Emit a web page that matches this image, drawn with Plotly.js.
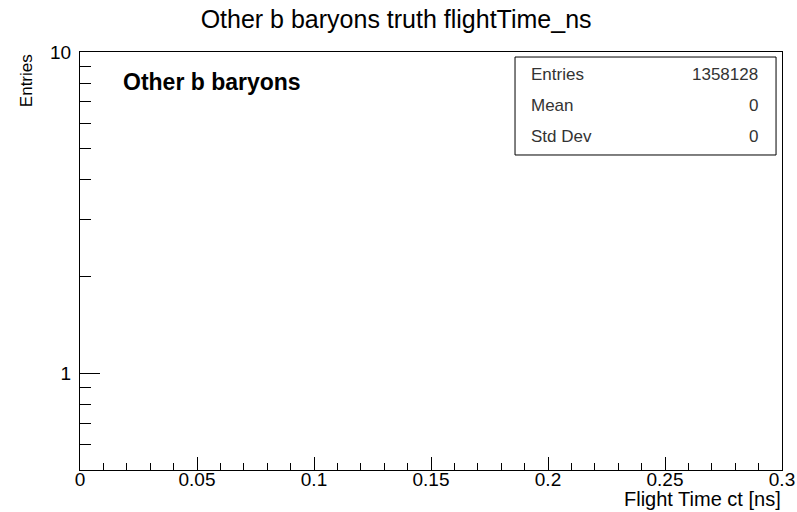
<!DOCTYPE html>
<html>
<head>
<meta charset="utf-8">
<script src="https://cdn.plot.ly/plotly-3.0.1.min.js"></script>
<style>html,body{margin:0;padding:0;background:#fff;}#chart{width:797px;height:512px;}</style>
</head>
<body>
<div id="chart"></div>
<script>
// Histogram content (empty: all entries are outside the drawn range / zero)
const binCenters = [];
const binCounts = [];
const chartTitle = 'Other b baryons truth flightTime_ns';
const xAxisTitle = 'Flight Time ct [ns]';
const yAxisTitle = 'Entries';
const sampleLabel = 'Other b baryons';
const statLabels = ['Entries', 'Mean', 'Std Dev'];
const statValues = ['1358128', '0', '0'];
const xTickVals = [0, 0.05, 0.1, 0.15, 0.2, 0.25, 0.3];
const xTickText = ['0', '0.05', '0.1', '0.15', '0.2', '0.25', '0.3'];
const yTickVals = [1, 10];
const yTickText = ['1', '10'];
const yMinorVals = [0.5, 0.6, 0.7, 0.8, 0.9, 2, 3, 4, 5, 6, 7, 8, 9];

const FONT = 'Liberation Sans, Arial, Helvetica, sans-serif';

const statRowY = [0.947, 0.873, 0.797];
const annotations = [
  {text: sampleLabel, xref: 'paper', yref: 'paper', x: 0.059, y: 0.928, xanchor: 'left', yanchor: 'middle',
   showarrow: false, font: {family: FONT, size: 23, color: '#000', weight: 'bold'}},
  {text: xAxisTitle, xref: 'paper', yref: 'paper', x: 1.0, y: -0.0975, xanchor: 'right', yanchor: 'bottom',
   borderpad: 0, showarrow: false, font: {family: FONT, size: 20, color: '#000'}},
  {text: yAxisTitle, xref: 'paper', yref: 'paper', x: -0.076, y: 1.0, xanchor: 'center', yanchor: 'top',
   textangle: -90, showarrow: false, font: {family: FONT, size: 17, color: '#000'}}
];
statLabels.forEach((lab, i) => {
  annotations.push({text: lab, xref: 'paper', yref: 'paper', x: 0.639, y: statRowY[i], xanchor: 'left', yanchor: 'middle',
    showarrow: false, font: {family: FONT, size: 17, color: '#333'}});
  annotations.push({text: statValues[i], xref: 'paper', yref: 'paper', x: 0.969, y: statRowY[i], xanchor: 'right', yanchor: 'middle',
    showarrow: false, font: {family: FONT, size: 17, color: '#333'}});
});

const data = [{
  type: 'bar', x: binCenters, y: binCounts,
  marker: {color: '#000'}, showlegend: false, hoverinfo: 'skip'
}];

const layout = {
  width: 797, height: 512,
  margin: {l: 80, r: 15, t: 52, b: 42},
  paper_bgcolor: '#fff', plot_bgcolor: '#fff',
  showlegend: false,
  title: {text: chartTitle, x: 0.497, xanchor: 'center', y: 0.962, yanchor: 'middle',
          font: {family: FONT, size: 25, color: '#000'}},
  xaxis: {
    range: [0, 0.3], tickmode: 'array', tickvals: xTickVals, ticktext: xTickText,
    ticks: 'inside', ticklen: 13, tickwidth: 1, tickcolor: '#000',
    minor: {dtick: 0.01, ticks: 'inside', ticklen: 7, tickwidth: 1, tickcolor: '#000', showgrid: false},
    showline: true, linecolor: '#000', linewidth: 1, mirror: true,
    showgrid: false, zeroline: false,
    tickfont: {family: FONT, size: 19, color: '#000'}, ticklabelstandoff: -8
  },
  yaxis: {
    type: 'log', range: [Math.log10(0.5), 1], tickmode: 'array', tickvals: yTickVals, ticktext: yTickText,
    ticks: 'inside', ticklen: 20, tickwidth: 1, tickcolor: '#000',
    minor: {tickmode: 'array', tickvals: yMinorVals, ticks: 'inside', ticklen: 11, tickwidth: 1, tickcolor: '#000', showgrid: false},
    showline: true, linecolor: '#000', linewidth: 1, mirror: true,
    showgrid: false, zeroline: false,
    tickfont: {family: FONT, size: 19, color: '#000'}, ticklabelstandoff: 4
  },
  shapes: [{type: 'rect', xref: 'paper', yref: 'paper', x0: 0.6197, x1: 0.9915, y0: 0.7536, y1: 0.988,
            line: {color: '#000', width: 1}, fillcolor: '#fff'}],
  annotations: annotations
};

Plotly.newPlot('chart', data, layout, {displayModeBar: false, staticPlot: true});
</script>
</body>
</html>
